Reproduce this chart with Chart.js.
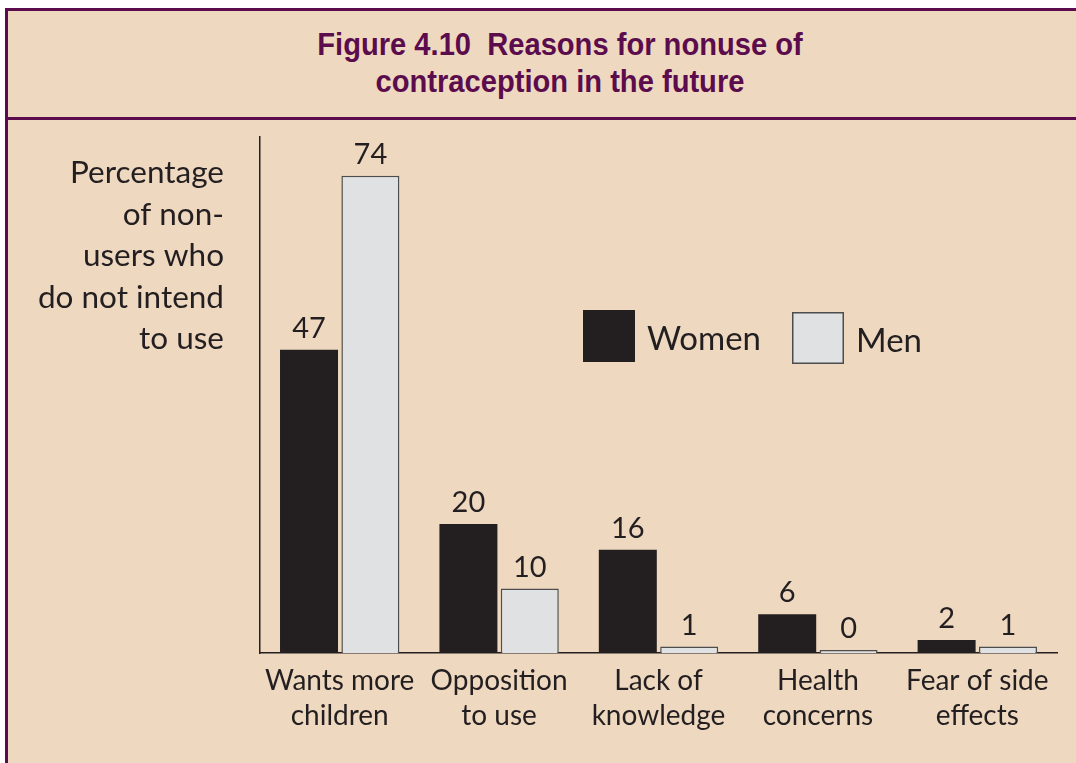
<!DOCTYPE html>
<html>
<head>
<meta charset="utf-8">
<script src="https://cdn.jsdelivr.net/npm/chart.js@4.4.1/dist/chart.umd.min.js"></script>
<style>
  html, body { margin: 0; padding: 0; background: #ffffff; overflow: hidden; }
  body { width: 1076px; height: 763px; position: relative; }
  .frame {
    position: absolute; left: 5px; top: 8px; width: 1104px; height: 800px;
    background: #efd8c0; border-left: 3px solid #5b0c4c; border-top: 3px solid #5b0c4c;
  }
  .title-box {
    position: absolute; left: 0; top: 0; width: 1104px; height: 106px;
    border-bottom: 3px solid #5b0c4c;
  }
  .title-text {
    position: absolute; left: 0; top: 15px; width: 1104px; text-align: center;
    font-family: 'Liberation Sans', Arial, sans-serif;
    font-weight: bold; font-size: 32px; line-height: 37px; color: #5b0c4c;
    transform: scaleX(0.91); transform-origin: 552px 0;
  }
  #wrap { position: absolute; left: 0; top: 120px; width: 1076px; height: 643px; }
</style>
</head>
<body>
<div class="frame">
  <div class="title-box">
    <div class="title-text">Figure 4.10&nbsp; Reasons for nonuse of<br>contraception in the future</div>
  </div>
</div>
<div id="wrap"><canvas id="chart"></canvas></div>
<script>
// data
const categories = [
  ['Wants more', 'children'],
  ['Opposition', 'to use'],
  ['Lack of', 'knowledge'],
  ['Health', 'concerns'],
  ['Fear of side', 'effects']
];
const women = [47, 20, 16, 6, 2];
const men = [74, 10, 1, 0, 1];
const yTitle = ['Percentage', 'of non-', 'users who', 'do not intend', 'to use'];

const textFont = "Lato, 'Open Sans', sans-serif";
const ink = '#231f20';

// value labels above each bar
const valueLabels = {
  id: 'valueLabels',
  afterDatasetsDraw(chart) {
    const ctx = chart.ctx;
    ctx.save();
    ctx.font = '29px ' + textFont;
    ctx.fillStyle = ink;
    ctx.textAlign = 'center';
    ctx.textBaseline = 'alphabetic';
    chart.data.datasets.forEach((ds, i) => {
      chart.getDatasetMeta(i).data.forEach((bar, j) => {
        ctx.fillText(String(ds.data[j]), bar.x, bar.y - 12);
      });
    });
    ctx.restore();
  }
};

// right-aligned y title and the legend inside the plot
const extras = {
  id: 'extras',
  afterDraw(chart) {
    const ctx = chart.ctx;
    ctx.save();
    ctx.font = '31.5px ' + textFont;
    ctx.fillStyle = ink;
    ctx.textAlign = 'right';
    ctx.textBaseline = 'middle';
    yTitle.forEach((line, i) => ctx.fillText(line, 224, 53 + i * 41.5));

    // legend
    const items = [
      { ds: chart.data.datasets[0], x: 583, y: 190, dy: 29 },
      { ds: chart.data.datasets[1], x: 792, y: 192, dy: 29 }
    ];
    items.forEach(it => {
      ctx.fillStyle = it.ds.backgroundColor;
      ctx.fillRect(it.x, it.y, 52, 52);
      if (it.ds.borderWidth) {
        ctx.strokeStyle = it.ds.borderColor;
        ctx.lineWidth = 1.5;
        ctx.strokeRect(it.x + 0.75, it.y + 0.75, 50.5, 50.5);
      }
      ctx.fillStyle = ink;
      ctx.textAlign = 'left';
      ctx.font = '33px ' + textFont;
      ctx.fillText(it.ds.label, it.x + 64, it.y + it.dy);
    });
    ctx.restore();
  }
};

new Chart(document.getElementById('chart'), {
  type: 'bar',
  data: {
    labels: categories,
    datasets: [
      {
        label: 'Women',
        data: women,
        backgroundColor: ink,
        borderWidth: 0,
        categoryPercentage: 0.77,
        barPercentage: 0.945
      },
      {
        label: 'Men',
        data: men,
        backgroundColor: '#e0e1e3',
        borderColor: '#4d4d4d',
        borderWidth: 1.5,
        minBarLength: 3,
        categoryPercentage: 0.77,
        barPercentage: 0.945
      }
    ]
  },
  options: {
    responsive: true,
    maintainAspectRatio: false,
    animation: false,
    layout: { padding: { left: 260, right: 19, top: 17, bottom: 20 } },
    plugins: {
      legend: { display: false },
      tooltip: { enabled: false }
    },
    scales: {
      x: {
        grid: { display: false, drawTicks: false },
        border: { display: true, color: ink, width: 1.5 },
        ticks: {
          color: ink,
          font: { family: textFont, size: 28, lineHeight: 1.25 },
          padding: 10,
          maxRotation: 0,
          autoSkip: false
        }
      },
      y: {
        min: 0,
        max: 80,
        grid: { display: false, drawTicks: false },
        border: { display: true, color: ink, width: 1.5 },
        ticks: { display: false }
      }
    }
  },
  plugins: [valueLabels, extras]
});
</script>
</body>
</html>
